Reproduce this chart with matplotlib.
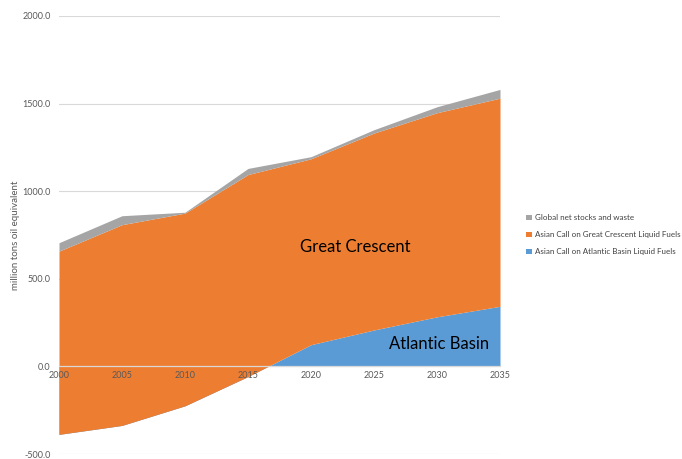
import numpy as np
import matplotlib.pyplot as plt

years = [2000, 2005, 2010, 2015, 2020, 2025, 2030, 2035]
atlantic = [-388, -337, -225, -58, 124, 208, 283, 343]
crescent = [1046, 1146, 1100, 1153, 1061, 1124, 1165, 1188]
stocks = [48, 51, 5, 35, 12, 19, 34, 50]

names = ["Global net stocks and waste",
         "Asian Call on Great Crescent Liquid Fuels",
         "Asian Call on Atlantic Basin Liquid Fuels"]
colors = {"stocks": "#A5A5A5", "crescent": "#ED7D31", "atlantic": "#5B9BD5"}

plt.rcParams['font.family'] = ['Lato', 'DejaVu Sans']

x = np.array(years)
a = np.array(atlantic, dtype=float)
top_c = a + np.array(crescent)
top_s = top_c + np.array(stocks)

fig = plt.figure(figsize=(6.82, 4.59), dpi=100)
ax = fig.add_axes([59 / 682, 1 - 454 / 459, 441 / 682, 438 / 459])

# Excel-style stacked area: each series fills from the previous total
h_a = ax.fill_between(x, 0, a, color=colors["atlantic"], lw=0, zorder=2)
h_c = ax.fill_between(x, a, top_c, color=colors["crescent"], lw=0, zorder=3)
h_s = ax.fill_between(x, top_c, top_s, color=colors["stocks"], lw=0, zorder=4)

ax.set_xlim(2000, 2035)
ax.set_ylim(-500, 2000)
ax.set_yticks([-500, 0, 500, 1000, 1500, 2000])
ax.set_yticklabels([f"{v:.1f}" for v in [-500, 0, 500, 1000, 1500, 2000]])
ax.set_xticks(years)
ax.grid(axis='y', color='#D9D9D9', lw=0.8, zorder=1)
ax.set_axisbelow(True)

for s in ['top', 'right', 'left']:
    ax.spines[s].set_visible(False)
ax.spines['bottom'].set_position(('data', 0))
ax.spines['bottom'].set_color('#D9D9D9')
ax.spines['bottom'].set_linewidth(0.9)
ax.spines['bottom'].set_zorder(5)
ax.xaxis.set_zorder(6)

ax.tick_params(axis='both', length=0, labelsize=6.5, labelcolor='#595959')
ax.tick_params(axis='x', pad=3)
ax.tick_params(axis='y', pad=6)

ax.set_ylabel("million tons oil equivalent", fontsize=7, color='#595959', labelpad=2)

ax.text(2023.5, 680, "Great Crescent", fontsize=12, color='black', ha='center', va='center', zorder=7)
ax.text(2030.2, 130, "Atlantic Basin", fontsize=12, color='black', ha='center', va='center', zorder=7)

fig.legend([h_s, h_c, h_a], names, loc='upper left', bbox_to_anchor=(523 / 682, 1 - 211 / 459),
           frameon=False, fontsize=5.8, labelcolor='#404040', handlelength=0.7, handleheight=0.7,
           handletextpad=0.4, labelspacing=1.25, borderaxespad=0)

fig.savefig("out.png", dpi=100)
